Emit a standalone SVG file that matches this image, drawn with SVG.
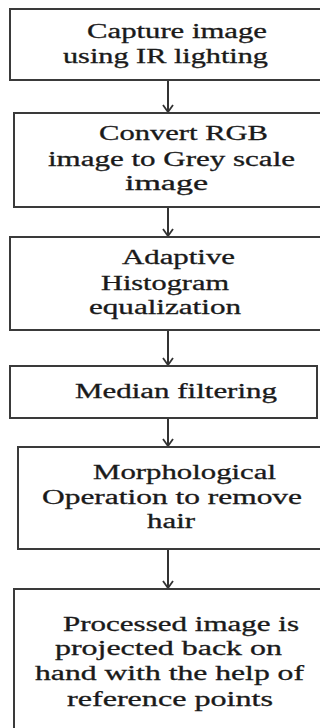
<svg xmlns="http://www.w3.org/2000/svg" width="320" height="728" viewBox="0 0 320 728">
<style>
.box{fill:#fff;stroke:#3a3a3a;stroke-width:2}
.c{stroke:#333;stroke-width:2;fill:none}
text{font-family:"Liberation Serif","Times New Roman",Times,serif;font-size:20px;fill:#1a1a1a;stroke:#1a1a1a;stroke-width:0.3}
</style>
<defs>
<marker id="ah" markerWidth="9" markerHeight="12" refX="8" refY="6" orient="auto" markerUnits="userSpaceOnUse" viewBox="0 0 9 12">
<polyline points="1,1 8,6 1,11" fill="none" stroke="#333" stroke-width="1.8"/>
</marker>
</defs>
<rect width="320" height="728" fill="#fff"/>
<g id="connectors">
<line class="c" x1="168" y1="80" x2="168" y2="112" marker-end="url(#ah)"/>
<line class="c" x1="168" y1="207" x2="168" y2="236" marker-end="url(#ah)"/>
<line class="c" x1="168" y1="330" x2="168" y2="365" marker-end="url(#ah)"/>
<line class="c" x1="168" y1="418" x2="168" y2="446" marker-end="url(#ah)"/>
<line class="c" x1="168" y1="549" x2="168" y2="588" marker-end="url(#ah)"/>
</g>
<g id="n1">
<rect class="box" x="10" y="9" width="320" height="71"/>
<text x="87" y="38" textLength="180" lengthAdjust="spacingAndGlyphs">Capture image</text>
<text x="63" y="63" textLength="205" lengthAdjust="spacingAndGlyphs">using IR lighting</text>
</g>
<g id="n2">
<rect class="box" x="14" y="113" width="320" height="94"/>
<text x="99" y="140" textLength="169" lengthAdjust="spacingAndGlyphs">Convert RGB</text>
<text x="48" y="166" textLength="247" lengthAdjust="spacingAndGlyphs">image to Grey scale</text>
<text x="125" y="190" textLength="83" lengthAdjust="spacingAndGlyphs">image</text>
</g>
<g id="n3">
<rect class="box" x="10" y="237" width="320" height="93"/>
<text x="122" y="264" textLength="113" lengthAdjust="spacingAndGlyphs">Adaptive</text>
<text x="101" y="290" textLength="128" lengthAdjust="spacingAndGlyphs">Histogram</text>
<text x="89" y="314" textLength="152" lengthAdjust="spacingAndGlyphs">equalization</text>
</g>
<g id="n4">
<rect class="box" x="10" y="366" width="307" height="52"/>
<text x="75" y="398" textLength="202" lengthAdjust="spacingAndGlyphs">Median filtering</text>
</g>
<g id="n5">
<rect class="box" x="18" y="447" width="320" height="102"/>
<text x="93" y="479" textLength="183" lengthAdjust="spacingAndGlyphs">Morphological</text>
<text x="42" y="504" textLength="260" lengthAdjust="spacingAndGlyphs">Operation to remove</text>
<text x="147" y="528" textLength="48" lengthAdjust="spacingAndGlyphs">hair</text>
</g>
<g id="n6">
<rect class="box" x="14" y="589" width="320" height="160"/>
<text x="63" y="631" textLength="236" lengthAdjust="spacingAndGlyphs">Processed image is</text>
<text x="55" y="655" textLength="227" lengthAdjust="spacingAndGlyphs">projected back on</text>
<text x="35" y="680" textLength="269" lengthAdjust="spacingAndGlyphs">hand with the help of</text>
<text x="67" y="706" textLength="206" lengthAdjust="spacingAndGlyphs">reference points</text>
</g>
</svg>
